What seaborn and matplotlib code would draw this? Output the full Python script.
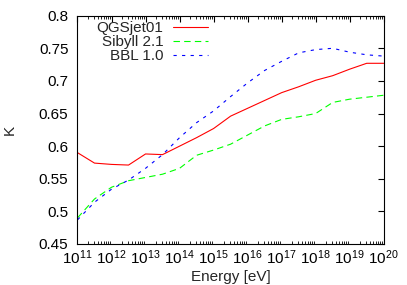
import numpy as np
import pandas as pd
import matplotlib
matplotlib.use("Agg")
import matplotlib.pyplot as plt
import seaborn as sns
from matplotlib.ticker import LogLocator, FixedLocator, NullFormatter, FuncFormatter

log_energy = [11.0, 11.5, 12.0, 12.5, 13.0, 13.5, 14.0, 14.5, 15.0, 15.5,
              16.0, 16.5, 17.0, 17.5, 18.0, 18.5, 19.0, 19.5, 20.0]
qgsjet = [0.590, 0.574, 0.572, 0.571, 0.588, 0.587, 0.600, 0.613, 0.627, 0.646,
          0.658, 0.670, 0.682, 0.691, 0.701, 0.708, 0.718, 0.727, 0.727]
sibyll = [0.490, 0.519, 0.537, 0.547, 0.552, 0.557, 0.566, 0.586, 0.594, 0.603,
          0.617, 0.631, 0.641, 0.645, 0.650, 0.667, 0.672, 0.675, 0.678]
bbl = [0.487, 0.514, 0.534, 0.548, 0.566, 0.587, 0.613, 0.636, 0.654, 0.676,
       0.697, 0.716, 0.730, 0.743, 0.748, 0.750, 0.744, 0.740, 0.738]
series_names = ["QGSjet01", "Sibyll 2.1", "BBL 1.0"]
x_ticks = [1e11, 1e12, 1e13, 1e14, 1e15, 1e16, 1e17, 1e18, 1e19, 1e20]
y_ticks = [0.45, 0.5, 0.55, 0.6, 0.65, 0.7, 0.75, 0.8]

energy = [10 ** v for v in log_energy]
df = pd.DataFrame({
    "Energy": energy * 3,
    "K": qgsjet + sibyll + bbl,
    "model": [series_names[0]] * len(energy) + [series_names[1]] * len(energy) + [series_names[2]] * len(energy),
})

sns.set_style("white")
plt.rcParams["font.family"] = ["Liberation Sans", "DejaVu Sans"]
plt.rcParams["mathtext.fontset"] = "custom"
plt.rcParams["mathtext.rm"] = "Liberation Sans"
plt.rcParams["mathtext.it"] = "Liberation Sans"

FS = 11
fig = plt.figure(figsize=(4.07, 2.85), dpi=100)
ax = fig.add_axes([0.1904, 0.1439, 0.7524, 0.8011])

palette = {"QGSjet01": "#ff0000", "Sibyll 2.1": "#00ff00", "BBL 1.0": "#0000ff"}
dashes = {"QGSjet01": "", "Sibyll 2.1": (5.8, 3.8), "BBL 1.0": (2.9, 4.8)}
sns.lineplot(data=df, x="Energy", y="K", hue="model", style="model",
             palette=palette, dashes=dashes, linewidth=0.8, ax=ax,
             legend=False)

ax.set_xscale("log")
ax.set_xlim(1e11, 1e20)
ax.set_ylim(0.45, 0.8)
ax.xaxis.set_major_locator(FixedLocator(x_ticks))
ax.xaxis.set_minor_locator(LogLocator(base=10, subs=np.arange(2, 10), numticks=100))
ax.xaxis.set_minor_formatter(NullFormatter())
ax.xaxis.set_major_formatter(FuncFormatter(lambda v, p: r"$\mathregular{10^{%d}}$" % round(np.log10(v))))
ax.yaxis.set_major_locator(FixedLocator(y_ticks))
ax.yaxis.set_major_formatter(FuncFormatter(lambda v, p: ("%.2f" % v).rstrip("0").rstrip(".")))

ax.tick_params(axis="both", which="major", direction="in", length=4, width=0.8,
               top=True, right=True, labelsize=FS, color="black", labelcolor="black")
ax.tick_params(axis="y", which="major", pad=6.5)
ax.tick_params(axis="x", which="major", pad=3)
ax.tick_params(axis="x", which="minor", direction="in", length=2, width=0.6,
               top=True, bottom=True, color="black")
for s in ax.spines.values():
    s.set_color("black")
    s.set_linewidth(0.8)

ax.set_xlabel("Energy [eV]", fontsize=FS, labelpad=2)
ax.set_ylabel("K", fontsize=FS)
ax.yaxis.set_label_coords(-0.198, 0.5)

lines = ax.get_lines()[:3]
leg = ax.legend(lines, series_names, loc="upper right", bbox_to_anchor=(0.425, 0.975),
                frameon=False, markerfirst=False, fontsize=FS,
                handlelength=2.3, handletextpad=0.6, labelspacing=0.0,
                borderaxespad=0.0, borderpad=0.0)

fig.savefig("out.png", dpi=100)
